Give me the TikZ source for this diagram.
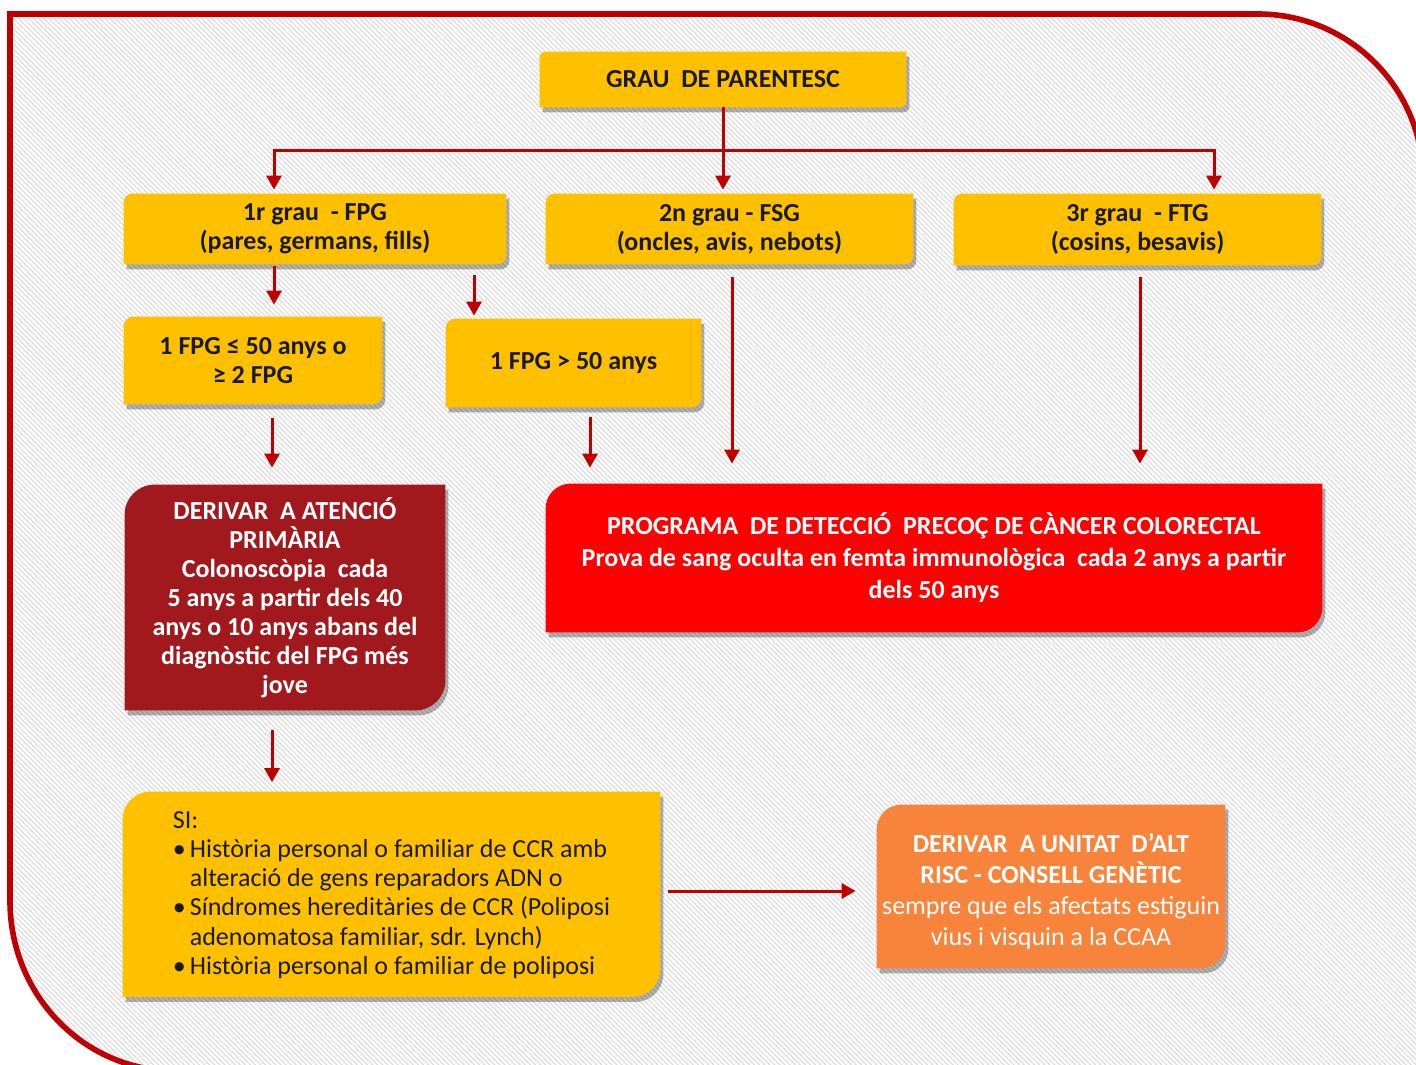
\documentclass[tikz,border=0pt]{standalone}
\usepackage{fontspec}
\setmainfont{Carlito}
\usetikzlibrary{calc,arrows.meta,shadows,patterns.meta,backgrounds}

\definecolor{framered}{HTML}{C00000}
\definecolor{gold}{HTML}{FFC000}
\definecolor{darkredbox}{HTML}{A1191D}
\definecolor{brightred}{HTML}{FF0000}
\definecolor{orangebox}{HTML}{F8843C}
\definecolor{txt}{HTML}{1A1A10}
\definecolor{hatch}{HTML}{DCDCDC}

% snipped-round fill behind a node: rounded NW and SE corners
\newcommand\snipfill[3]{%
  \fill[#3] ($(#1.north west)+(#2,0)$) -- (#1.north east) -- ($(#1.south east)+(0,-#2)$)
    .. controls ($(#1.south east)+(0,-0.448*#2)$) and ($(#1.south east)+(-0.448*#2,0)$) .. ($(#1.south east)+(-#2,0)$)
    -- (#1.south west) -- ($(#1.north west)+(0,#2)$)
    .. controls ($(#1.north west)+(0,0.448*#2)$) and ($(#1.north west)+(0.448*#2,0)$) .. ($(#1.north west)+(#2,0)$)
    -- cycle;}

\newcommand\framepath{(10,14) -- (1258,14)
  .. controls (1349,14) and (1423,88) .. (1423,179)
  -- (1423,1071) -- (175,1071)
  .. controls (84,1071) and (10,995) .. (10,901) -- cycle}

\begin{document}
\begin{tikzpicture}[x=0.5pt,y=-0.5pt,
  bx/.style={align=center, inner sep=0pt, text=txt,
    font=\fontsize{13pt}{14.5pt}\selectfont\bfseries},
  wbx/.style={bx, text=white},
  shad/.style={drop shadow={shadow xshift=1.5pt,shadow yshift=-2.5pt,opacity=0.3,fill=black}},
  arr/.style={draw=framered, line width=1.5pt, -{Triangle[length=7pt,width=7.5pt]}}]
\useasboundingbox (0,0) rectangle (1416,1064);
\clip (0,0) rectangle (1416,1064);

% ---- nodes ----
\node[bx, minimum width=183pt, minimum height=27.5pt] (grau) at (723,79.5) {GRAU~ DE PARENTESC};
\node[bx, minimum width=191pt, minimum height=35pt] (g1) at (315,229) {1r grau~ - FPG\\(pares, germans, fills)};
\node[bx, minimum width=183.5pt, minimum height=35pt] (g2) at (729.5,229) {2n grau - FSG\\(oncles, avis, nebots)};
\node[bx, minimum width=183.5pt, minimum height=35.5pt] (g3) at (1137.5,229.5) {3r grau~ - FTG\\(cosins, besavis)};
\node[bx, minimum width=129pt, minimum height=43.5pt] (c1) at (253,360.5) {1 FPG ≤ 50 anys o\\≥ 2 FPG};
\node[bx, minimum width=127.5pt, minimum height=44pt] (c2) at (573.5,363) {1 FPG > 50 anys};
\node[wbx, minimum width=160pt, minimum height=112.5pt] (prim) at (285,597.5)
  {DERIVAR~ A ATENCIÓ\\PRIMÀRIA\\Colonoscòpia~ cada\\5 anys a partir dels 40\\anys o 10 anys abans del\\diagnòstic del FPG més\\jove};
\node[wbx, minimum width=388pt, minimum height=74pt, font=\fontsize{13pt}{16pt}\selectfont\bfseries] (prog) at (934,558)
  {PROGRAMA~ DE DETECCIÓ~ PRECOÇ DE CÀNCER COLORECTAL\\Prova de sang oculta en femta immunològica~ cada 2 anys a partir\\dels 50 anys};
\node[bx, font=\fontsize{13pt}{14.6pt}\selectfont, align=left, inner sep=0pt,
  minimum width=268.5pt, minimum height=101.5pt] (si) at (391.5,895)
  {SI:\\
   \makebox[8.5pt][l]{\textbullet}Història personal o familiar de CCR amb\\
   \hspace*{8.5pt}alteració de gens reparadors ADN o\\
   \makebox[8.5pt][l]{\textbullet}Síndromes hereditàries de CCR (Poliposi\\
   \hspace*{8.5pt}adenomatosa familiar, sdr. Lynch)\\
   \makebox[8.5pt][l]{\textbullet}Història personal o familiar de poliposi};
\node[wbx, minimum width=174pt, minimum height=81.5pt, font=\fontsize{13pt}{15.5pt}\selectfont] (alt) at (1051,886.5)
  {\rule{0pt}{15pt}\bfseries DERIVAR~ A UNITAT~ D’ALT\\\bfseries RISC - CONSELL GENÈTIC\\sempre que els afectats estiguin\\vius i visquin a la CCAA};

% ---- backgrounds ----
\begin{scope}[on background layer]
  \fill[white] \framepath;
  \fill[pattern={Lines[angle=-45,distance=1.8pt,line width=0.6pt]}, pattern color=hatch] \framepath;
  \draw[framered, line width=2.8pt] \framepath;
  \snipfill{grau}{6}{gold, shad}
  \snipfill{g1}{9}{gold, shad}
  \snipfill{g2}{9}{gold, shad}
  \snipfill{g3}{9}{gold, shad}
  \snipfill{c1}{10}{gold, shad}
  \snipfill{c2}{10}{gold, shad}
  \snipfill{prim}{30}{darkredbox, shad}
  \snipfill{prog}{25}{brightred, shad}
  \fill[gold, shad] ($(si.north west)+(28,-1.5)$) -- ($(si.north east)+(0,-1.5)$) -- ($(si.south east)+(0,-28)$)
    .. controls ($(si.south east)+(0,-12.5)$) and ($(si.south east)+(-12.5,0)$) .. ($(si.south east)+(-28,0)$)
    -- (si.south west) -- ($(si.north west)+(0,26.5)$)
    .. controls ($(si.north west)+(0,11)$) and ($(si.north west)+(12.5,-1.5)$) .. ($(si.north west)+(28,-1.5)$) -- cycle;
  \snipfill{alt}{25}{orangebox, shad}
\end{scope}

% ---- connectors ----
\coordinate (bar) at (723,151);
\coordinate (xa) at (274,0);
\coordinate (xb) at (474,0);
\coordinate (xc) at (272,0);
\coordinate (xd) at (590,0);
\coordinate (xe) at (732,0);
\coordinate (xf) at (1140,0);
\coordinate (xg) at (1214,0);
\coordinate (ya) at (0,891);

\draw[arr, shorten >=2pt] (grau.south) -- (g2.north -| grau.south);
\draw[arr, shorten >=2pt] (bar) -| (g1.north -| xa);
\draw[arr, shorten >=2pt] (bar) -| (g3.north -| xg);
\draw[arr, shorten <=1pt, shorten >=6pt] (g1.south -| xa) -- (c1.north -| xa);
\draw[arr, shorten <=5.5pt, shorten >=1.5pt] (g1.south -| xb) -- (c2.north -| xb);
\draw[arr, shorten <=7pt, shorten >=8.5pt] (c1.south -| xc) -- (prim.north -| xc);
\draw[arr, shorten <=5pt, shorten >=8pt] (c2.south -| xd) -- (prog.north -| xd);
\draw[arr, shorten <=6.5pt, shorten >=10pt] (g2.south -| xe) -- (prog.north -| xe);
\draw[arr, shorten <=6pt, shorten >=10pt] (g3.south -| xf) -- (prog.north -| xf);
\draw[arr, shorten <=10pt, shorten >=5.5pt] (prim.south -| xc) -- (si.north -| xc);
\draw[arr, shorten <=4pt, shorten >=10.5pt] (si.east |- ya) -- (alt.west |- ya);
\end{tikzpicture}
\end{document}
